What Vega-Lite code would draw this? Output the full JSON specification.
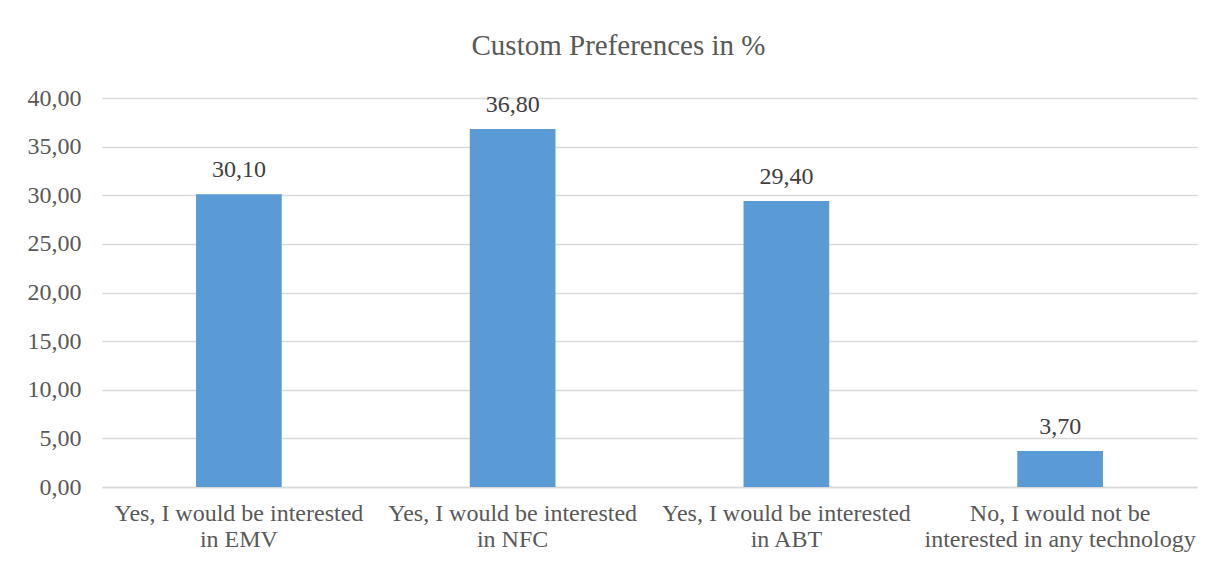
{
  "$schema": "https://vega.github.io/schema/vega-lite/v6.json",
  "width": 1095,
  "height": 389,
  "autosize": {"type": "none"},
  "padding": {"left": 102, "top": 98, "right": 19, "bottom": 78},
  "background": "white",
  "title": {
    "text": "Custom Preferences in %",
    "font": "Liberation Serif",
    "fontSize": 29,
    "fontWeight": "normal",
    "color": "#595959",
    "anchor": "middle",
    "baseline": "bottom",
    "offset": -4,
    "dx": -31
  },
  "data": {
    "values": [
      {"category": "Yes, I would be interested in EMV", "value": 30.1},
      {"category": "Yes, I would be interested in NFC", "value": 36.8},
      {"category": "Yes, I would be interested in ABT", "value": 29.4},
      {"category": "No, I would not be interested in any technology", "value": 3.7}
    ]
  },
  "config": {
    "locale": {"number": {"decimal": ",", "thousands": ".", "grouping": [3], "currency": ["", " €"]}},
    "view": {"stroke": null},
    "font": "Liberation Serif"
  },
  "encoding": {
    "x": {
      "field": "category",
      "type": "nominal",
      "sort": null,
      "scale": {"paddingInner": 0.687, "paddingOuter": 0.3435},
      "axis": {
        "title": null,
        "labelAngle": 0,
        "labelFont": "Liberation Serif",
        "labelFontSize": 24,
        "labelColor": "#595959",
        "labelLineHeight": 26,
        "labelPadding": 14,
        "labelLimit": 0,
        "ticks": false,
        "domainColor": "#D9D9D9",
        "domainWidth": 1.3,
        "labelExpr": "indexof(datum.label,'No,')==0 ? ['No, I would not be','interested in any technology'] : [slice(datum.label,0,26), slice(datum.label,27)]"
      }
    },
    "y": {
      "field": "value",
      "type": "quantitative",
      "scale": {"domain": [0, 40], "nice": false},
      "axis": {
        "title": null,
        "values": [0, 5, 10, 15, 20, 25, 30, 35, 40],
        "format": ".2f",
        "labelFont": "Liberation Serif",
        "labelFontSize": 24,
        "labelColor": "#595959",
        "labelPadding": 21,
        "ticks": false,
        "domain": false,
        "gridColor": "#D9D9D9",
        "gridWidth": 1.3
      }
    }
  },
  "layer": [
    {"mark": {"type": "bar", "color": "#5B9BD5"}},
    {
      "mark": {"type": "text", "baseline": "alphabetic", "dy": -17, "fontSize": 24, "font": "Liberation Serif", "color": "#404040"},
      "encoding": {"text": {"field": "value", "type": "quantitative", "format": ".2f"}}
    }
  ]
}
